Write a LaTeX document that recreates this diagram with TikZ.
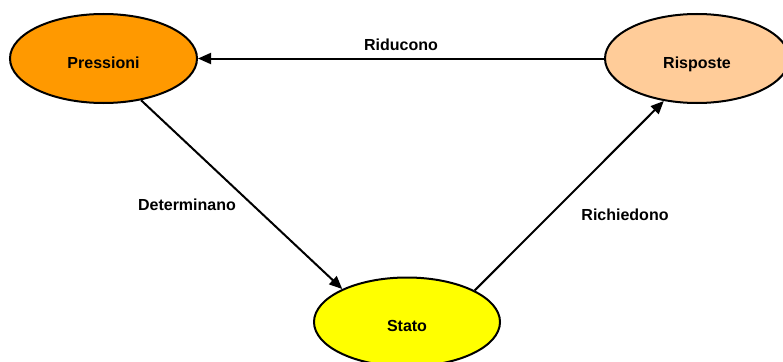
\documentclass[tikz,border=0pt]{standalone}
\usepackage{fontspec}
\setmainfont{Liberation Sans}
\usetikzlibrary{shapes.geometric,arrows.meta}
\definecolor{pressC}{RGB}{255,153,0}
\definecolor{rispC}{RGB}{255,204,153}
\definecolor{statoC}{RGB}{255,255,0}
\tikzset{
  stateell/.style={ellipse, draw=black, line width=2pt, minimum width=187pt, minimum height=89pt,
    inner sep=0pt, font=\fontsize{16}{19}\selectfont\bfseries, text height=19.5pt, text depth=0pt},
  lbl/.style={font=\fontsize{16}{19}\selectfont\bfseries, inner sep=0pt},
  conn/.style={line width=2pt, -{Triangle[length=13pt,width=11pt]}}
}
\begin{document}
\begin{tikzpicture}[x=1pt,y=1pt]
\useasboundingbox (0,0) rectangle (783,-361);
\node[stateell, fill=pressC] (P) at (103.5,-58.5) {Pressioni};
\node[stateell, fill=rispC, minimum width=184pt] (R) at (697,-58.5) {Risposte};
\node[stateell, fill=statoC, minimum width=186pt] (S) at (407,-322) {Stato};
\draw[conn] (R.west) -- (P.east);
\draw[conn] (P.-48) -- (S.153);
\draw[conn] (S.25.5) -- (R.232);
\node[lbl] (l1) at (401,-45) {Riducono};
\node[lbl] (l2) at (187,-205) {Determinano};
\node[lbl] (l3) at (625,-215) {Richiedono};
\end{tikzpicture}
\end{document}
